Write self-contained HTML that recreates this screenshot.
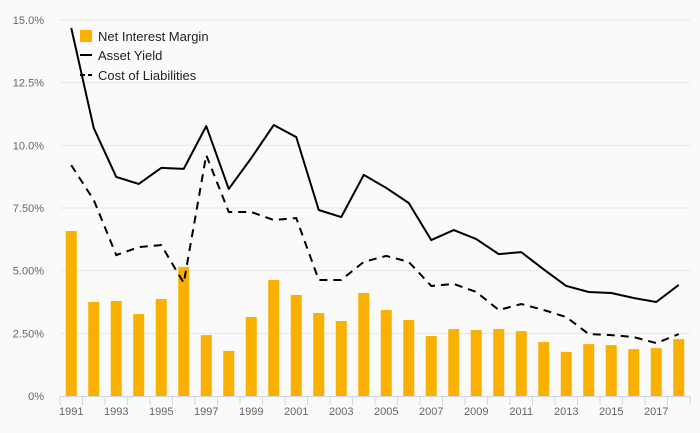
<!DOCTYPE html>
<html><head><meta charset="utf-8"><style>
html,body{margin:0;padding:0;background:#fafafa;}
svg{display:block;font-family:"Liberation Sans",sans-serif;}
</style></head><body>
<svg id="chart" width="700" height="433">
<rect width="700" height="433" fill="#fafafa"/>
<g id="grid"></g><g id="bars"></g><g id="lines"></g><g id="axes"></g>
<g>
<rect x="80" y="30" width="12" height="12" fill="#f9b000"/>
<text x="98" y="41" font-size="13" fill="#222">Net Interest Margin</text>
<line x1="80" y1="55" x2="92" y2="55" stroke="#000" stroke-width="2"/>
<text x="98" y="60" font-size="13" fill="#222">Asset Yield</text>
<line x1="80" y1="75" x2="92" y2="75" stroke="#000" stroke-width="2" stroke-dasharray="5,3"/>
<text x="98" y="80" font-size="13" fill="#222">Cost of Liabilities</text>
</g>
</svg>
<script>
const years=[1991,1992,1993,1994,1995,1996,1997,1998,1999,2000,2001,2002,2003,2004,2005,2006,2007,2008,2009,2010,2011,2012,2013,2014,2015,2016,2017,2018];
const nim=[6.58,3.75,3.79,3.27,3.87,5.15,2.43,1.8,3.15,4.63,4.03,3.31,2.99,4.11,3.43,3.03,2.39,2.67,2.63,2.67,2.59,2.15,1.76,2.07,2.03,1.87,1.91,2.27];
const assetYield=[14.68,10.69,8.74,8.46,9.1,9.06,10.77,8.26,9.49,10.81,10.33,7.42,7.14,8.82,8.3,7.7,6.22,6.62,6.26,5.66,5.74,5.05,4.39,4.15,4.11,3.91,3.75,4.43];
const costLiab=[9.21,7.82,5.62,5.94,6.02,4.51,9.61,7.34,7.34,7.02,7.1,4.63,4.63,5.35,5.59,5.35,4.39,4.47,4.15,3.43,3.67,3.43,3.15,2.47,2.43,2.35,2.11,2.47];
const yTicks=[0,2.5,5,7.5,10,12.5,15];
const yTickLabels=["0%","2.50%","5.00%","7.50%","10.0%","12.5%","15.0%"];
const NS="http://www.w3.org/2000/svg";
const L=60,R=690,T=20,B=396,yMax=15;
const bw=(R-L)/years.length;
const xC=i=>L+bw*(i+0.5);
const yS=v=>B-(v/yMax)*(B-T);
function mk(tag,attrs,parent){const e=document.createElementNS(NS,tag);for(const k in attrs)e.setAttribute(k,attrs[k]);document.getElementById(parent).appendChild(e);return e;}
yTicks.forEach((t,i)=>{
  if(t>0){const g=mk('line',{x1:L,x2:R,y1:yS(t),y2:yS(t),stroke:'#e6e6e6','stroke-width':1},'grid');
  
  }
  const tx=mk('text',{x:44,y:yS(t)+4,'text-anchor':'end','font-size':11,fill:'#666'},'axes');
  tx.textContent=yTickLabels[i];
  
  
});
years.forEach((y,i)=>{
  const w=bw*0.49;
  const b=mk('rect',{x:xC(i)-w/2,y:yS(nim[i]),width:w,height:B-yS(nim[i]),fill:'#f9b000'},'bars');
  
  
  const tk=mk('line',{x1:L+bw*i,x2:L+bw*i,y1:B,y2:B+9,stroke:'#ccd6eb'},'axes');
  
  
  if(i%2===0){const t=mk('text',{x:xC(i),y:415,'text-anchor':'middle','font-size':11,fill:'#666'},'axes');
  t.textContent=y;
  
  }
});
const tkE=mk('line',{x1:R,x2:R,y1:B,y2:B+9,stroke:'#ccd6eb'},'axes');


const ax=mk('line',{x1:L,x2:R,y1:B+0.5,y2:B+0.5,stroke:'#ccd6eb'},'axes');


const p1=mk('polyline',{points:assetYield.map((v,i)=>xC(i)+','+yS(v)).join(' '),fill:'none',stroke:'#000','stroke-width':2,'stroke-linejoin':'round'},'lines');


const p2=mk('polyline',{points:costLiab.map((v,i)=>xC(i)+','+yS(v)).join(' '),fill:'none',stroke:'#000','stroke-width':2,'stroke-dasharray':'8,6'},'lines');


</script>
</body></html>
